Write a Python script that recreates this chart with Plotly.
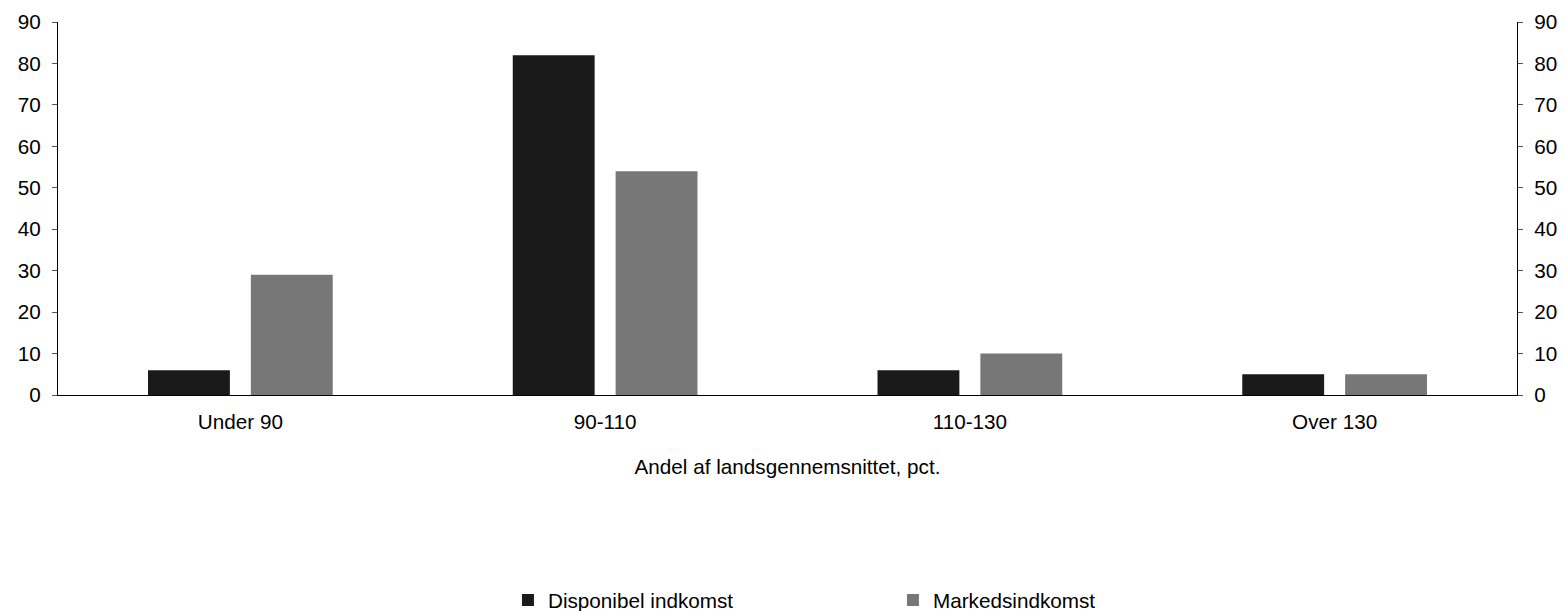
import plotly.graph_objects as go

categories = ["Under 90", "90-110", "110-130", "Over 130"]
disponibel = [6, 82, 6, 5]
markeds = [29, 54, 10, 5]

FONT = "Liberation Sans, Arial, sans-serif"
FS = 20.7

fig = go.Figure()
fig.add_trace(go.Bar(x=categories, y=disponibel, name="Disponibel indkomst",
                     marker=dict(color="#1a1a1a", line=dict(width=0))))
fig.add_trace(go.Bar(x=categories, y=markeds, name="Markedsindkomst",
                     marker=dict(color="#777777", line=dict(width=0))))
# invisible trace to carry the mirrored right axis
fig.add_trace(go.Scatter(x=categories, y=markeds, yaxis="y2", mode="markers",
                         marker=dict(opacity=0), showlegend=False, hoverinfo="skip"))

axis_y = dict(range=[0, 90], dtick=10, ticks="outside", ticklen=5, tickcolor="#555",
              showline=True, linecolor="black", linewidth=1, showgrid=False,
              zeroline=False, automargin=False, ticklabelstandoff=7,
              tickfont=dict(size=FS, color="black"))

fig.update_layout(
    width=1565, height=611,
    template="simple_white",
    font=dict(family=FONT, size=FS, color="black"),
    barmode="group", bargap=0.436, bargroupgap=0.204,
    margin=dict(l=58, r=48, t=22, b=216, autoexpand=False),
    xaxis=dict(showline=True, linecolor="black", linewidth=1, ticks="",
               automargin=False, ticklabelstandoff=8,
               title=dict(text="Andel af landsgennemsnittet, pct.", standoff=27,
                          font=dict(size=FS)),
               tickfont=dict(size=FS)),
    yaxis=dict(axis_y, side="left"),
    yaxis2=dict(axis_y, side="right", overlaying="y"),
    legend=dict(orientation="h", x=0.3084, xanchor="left", y=-0.55, yanchor="middle",
                entrywidth=340, entrywidthmode="pixels", font=dict(size=FS),
                itemwidth=30),
    showlegend=True,
)

fig.write_html("out.html", config={"displayModeBar": False},
               post_script="document.body.style.margin='0';")
